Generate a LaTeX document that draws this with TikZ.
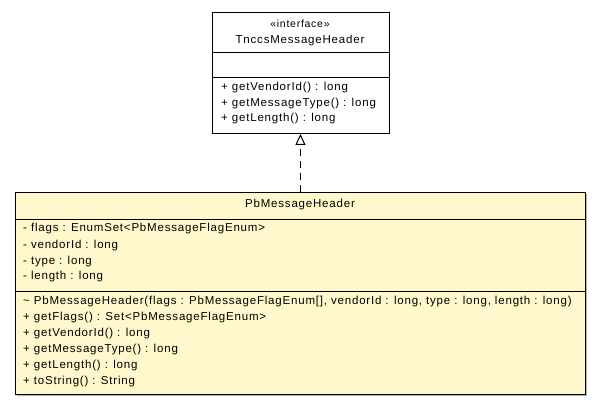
\documentclass[tikz,border=0pt]{standalone}
\usepackage{fontspec}
\setmainfont{Liberation Sans}
\newfontfamily\umlfont[LetterSpace=7]{Liberation Sans}
\usetikzlibrary{arrows.meta}
\definecolor{classfill}{HTML}{FFF8CC}
\tikzset{
  umlbox/.style={draw=black, line width=0.9pt},
  umltext/.style={inner sep=0pt, anchor=west, font=\umlfont\fontsize{11.5}{13}\selectfont},
  umlctext/.style={inner sep=0pt, anchor=center, font=\umlfont\fontsize{11.5}{13}\selectfont},
  realize/.style={draw=black, line width=1pt, dash pattern=on 7pt off 5pt, -{Triangle[open, length=11pt, width=10pt]}},
}
\begin{document}
\begin{tikzpicture}[x=1pt,y=-1pt]
\useasboundingbox (0,0) rectangle (600,405);
% interface
\node[umlbox, fill=white, minimum width=177pt, minimum height=121pt, inner sep=0pt, anchor=north west] (iface) at (211.5,12) {};
\draw[line width=0.9pt] (211.5,52) -- (388.5,52);
\draw[line width=0.9pt] (211.5,77.5) -- (388.5,77.5);
\node[umlctext, font=\umlfont\fontsize{10.5}{11}\selectfont] (ster) at (300,24) {«interface»};
\node[umlctext] (iname) at (300,41) {TnccsMessageHeader};
\node[umltext] (im1) at (221,88) {+ getVendorId() : long};
\node[umltext] (im2) at (221,104) {+ getMessageType() : long};
\node[umltext] (im3) at (221,119) {+ getLength() : long};
% class
\fill[gray!60] (17,194) rectangle (587,396);
\node[umlbox, fill=classfill, minimum width=570pt, minimum height=202pt, inner sep=0pt, anchor=north west] (cls) at (15,192) {};
\draw[line width=0.9pt] (15,219.5) -- (585,219.5);
\draw[line width=0.9pt] (15,291) -- (585,291);
\node[umlctext] (cname) at (300,205) {PbMessageHeader};
\node[umltext] (a1) at (23,229) {- flags : EnumSet<PbMessageFlagEnum>};
\node[umltext] (a2) at (23,245.5) {- vendorId : long};
\node[umltext] (a3) at (23,261.5) {- type : long};
\node[umltext] (a4) at (23,277) {- length : long};
\node[umltext] (m1) at (23,302) {\textasciitilde{} PbMessageHeader(flags : PbMessageFlagEnum[], vendorId : long, type : long, length : long)};
\node[umltext] (m2) at (23,318) {+ getFlags() : Set<PbMessageFlagEnum>};
\node[umltext] (m3) at (23,334) {+ getVendorId() : long};
\node[umltext] (m4) at (23,350) {+ getMessageType() : long};
\node[umltext] (m5) at (23,366) {+ getLength() : long};
\node[umltext] (m6) at (23,382) {+ toString() : String};
% realization
\draw[realize] (cls.north) -- (iface.south);
\end{tikzpicture}
\end{document}
